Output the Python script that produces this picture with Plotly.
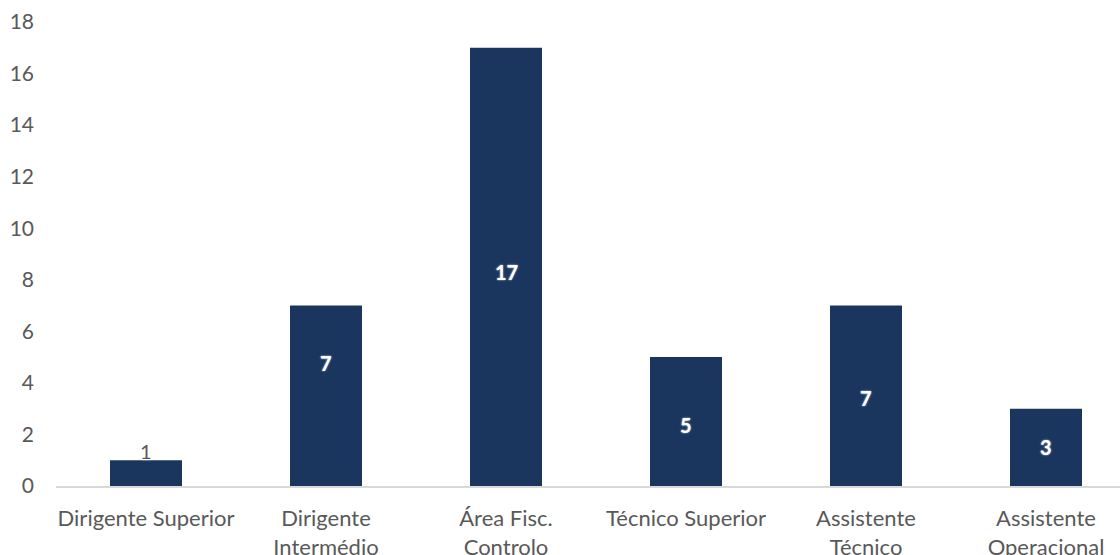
import plotly.graph_objects as go

# Staff count per career category
categories = [
    "Dirigente Superior",
    "Dirigente<br>Intermédio",
    "Área Fisc.<br>Controlo",
    "Técnico Superior",
    "Assistente<br>Técnico",
    "Assistente<br>Operacional",
]
values = [1, 7, 17, 5, 7, 3]
y_ticks = [0, 2, 4, 6, 8, 10, 12, 14, 16, 18]

BAR_COLOR = "#1a365f"
TICK_COLOR = "#595959"
FONT = "Lato, 'Open Sans', sans-serif"

x_idx = list(range(len(categories)))

fig = go.Figure()
fig.add_trace(go.Bar(
    x=x_idx,
    y=values,
    width=0.4,
    marker=dict(color=BAR_COLOR, line=dict(width=0)),
    hoverinfo="skip",
))

# Value labels: centred in the bar, except the short first bar where it sits on top
label_y = [v / 2 for v in values]
label_shift = [22, 33, -5, -3, -2, 0]
for i, v in enumerate(values):
    small = v < 2
    fig.add_annotation(
        x=i, y=label_y[i], yshift=label_shift[i],
        text=str(v), showarrow=False,
        font=dict(family=FONT, size=20,
                  color="#595959" if small else "white",
                  weight=400 if small else 700,
                  shadow="0px 0px 3px #ffffff" if small else "0px 0px 2px rgba(255,255,255,0.8)"),
    )

fig.update_layout(
    width=1120, height=555,
    margin=dict(l=56, r=0, t=22, b=69, autoexpand=False),
    paper_bgcolor="white", plot_bgcolor="white",
    showlegend=False,
    font=dict(family=FONT, size=22, color=TICK_COLOR),
    xaxis=dict(
        tickmode="array", tickvals=x_idx, ticktext=categories,
        range=[-0.5, -0.5 + 1064 / 180],
        showline=True, linecolor="#d9d9d9", linewidth=2,
        showgrid=False, zeroline=False, ticks="",
        ticklabelstandoff=12, automargin=False,
        tickfont=dict(family=FONT, size=22, color=TICK_COLOR),
    ),
    yaxis=dict(
        range=[0, 18], tickmode="array", tickvals=y_ticks,
        showgrid=False, zeroline=False, showline=False, ticks="",
        ticklabelstandoff=21, automargin=False,
        tickfont=dict(family=FONT, size=21, color=TICK_COLOR),
    ),
)

fig.write_html("out.html")
